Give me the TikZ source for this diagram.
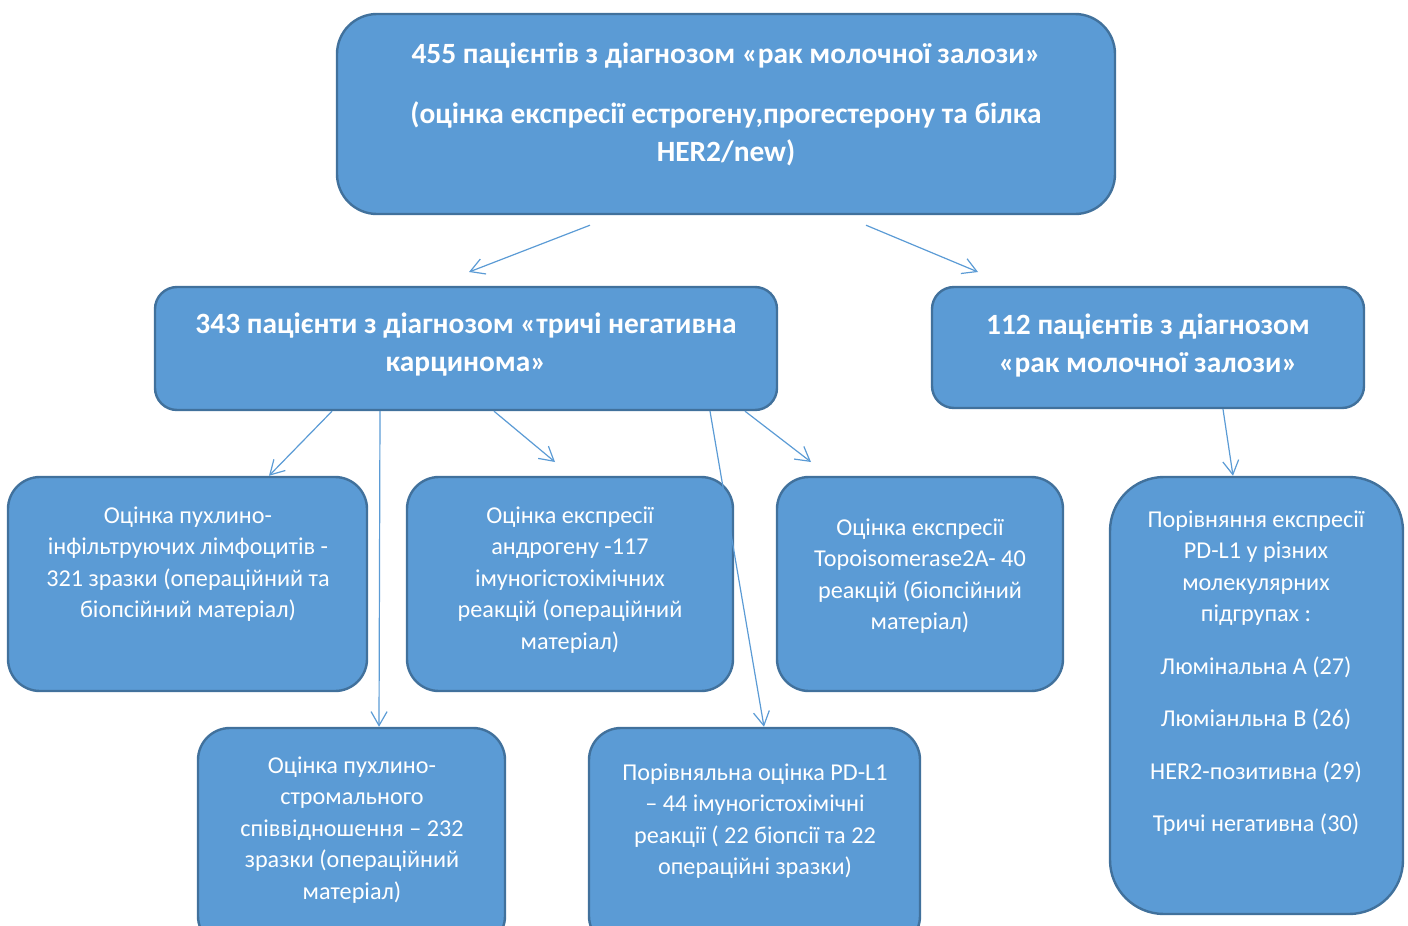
\documentclass[tikz,border=0pt]{standalone}
\usepackage{fontspec}
\setmainfont{Carlito}
\usetikzlibrary{arrows.meta}
\definecolor{boxfill}{HTML}{5B9BD5}
\definecolor{boxline}{HTML}{41719C}
\definecolor{arrowc}{HTML}{5B9BD5}
\tikzset{
  box/.style={draw=boxline, line width=1.2pt, fill=boxfill, inner sep=0pt},
  txt/.style={text=white, align=center, font=\fontsize{12.1pt}{15.75pt}\selectfont, inner sep=0pt},
  btxt/.style={text=white, align=center, font=\bfseries\fontsize{14.7pt}{19pt}\selectfont, inner sep=0pt},
  conn/.style={draw=arrowc, line width=0.6pt, -{Straight Barb[length=7pt,width=8pt]}},
}
\begin{document}
\begin{tikzpicture}[x=0.5pt,y=-0.5pt]
\useasboundingbox (0,0) rectangle (1408,926);
\clip (0,0) rectangle (1408,926);
% boxes
\node[box, rounded corners=20pt, minimum width=389pt, minimum height=100pt] (top) at (726,114) {};
\node[box, rounded corners=11pt, minimum width=311pt, minimum height=61.5pt] (lm) at (466,348.5) {};
\node[box, rounded corners=11pt, minimum width=216pt, minimum height=60.5pt] (rm) at (1148,347.5) {};
\node[box, rounded corners=16pt, minimum width=179.5pt, minimum height=107pt] (a) at (187.5,584) {};
\node[box, rounded corners=16pt, minimum width=163pt, minimum height=107pt] (b) at (570,584) {};
\node[box, rounded corners=16pt, minimum width=143pt, minimum height=107pt] (c) at (920,584) {};
\node[box, rounded corners=27pt, minimum width=146.5pt, minimum height=218.5pt] (d) at (1256.5,695.5) {};
\node[box, rounded corners=16pt, minimum width=153.5pt, minimum height=110pt] (e) at (351.5,838) {};
\node[box, rounded corners=16pt, minimum width=165.5pt, minimum height=110pt] (f) at (754.5,838) {};
% texts
\node[btxt] (toptxt) at (726,104) {455 пацієнтів з діагнозом «рак молочної залози»\\[11pt]
(оцінка експресії естрогену,прогестерону та білка\\HER2/new)};
\node[btxt] (lmtxt) at (466,345) {343 пацієнти з діагнозом «тричі негативна\\карцинома»};
\node[btxt] (rmtxt) at (1148,345) {112 пацієнтів з діагнозом\\«рак молочної залози»};
\node[txt] (atxt) at (188,564) {Оцінка пухлино-\\інфільтруючих лімфоцитів -\\321 зразки (операційний та\\біопсійний матеріал)};
\node[txt] (btxt) at (570,580) {Оцінка експресії\\андрогену -117\\імуногістохімічних\\реакцій (операційний\\матеріал)};
\node[txt] (ctxt) at (920,576) {Оцінка експресії\\Topoisomerase2A- 40\\реакцій (біопсійний\\матеріал)};
\node[txt] (dtxt) at (1256,673) {Порівняння експресії\\PD-L1 у різних\\молекулярних\\підгрупах :\\[10.5pt]
Люмінальна А (27)\\[10.5pt]Люміанльна В (26)\\[10.5pt]HER2-позитивна (29)\\[10.5pt]Тричі негативна (30)};
\node[txt] (etxt) at (352,830) {Оцінка пухлино-\\стромального\\співвідношення – 232\\зразки (операційний\\матеріал)};
\node[txt] (ftxt) at (755,821) {Порівняльна оцінка PD-L1\\– 44 імуногістохімічні\\реакції ( 22 біопсії та 22\\операційні зразки)};
% connectors
\draw[conn] (top.south -| 590,0) ++(0,10) -- (469,272);
\draw[conn] (top.south -| 866,0) ++(0,10) -- (978,272);
\draw[conn] (lm.south -| 332,0) -- (a.north -| 269,0);
\draw[conn] (lm.south -| 380,0) -- (e.north -| 379,0);
\draw[conn] (lm.south -| 494,0) -- (555,462);
\draw[conn] (lm.south -| 745,0) -- (811,462);
\draw[conn] (rm.south -| 1223,0) -- (d.north -| 1233,0);
\draw[conn] (lm.south -| 710,0) -- (f.north -| 764,0);
\end{tikzpicture}
\end{document}
